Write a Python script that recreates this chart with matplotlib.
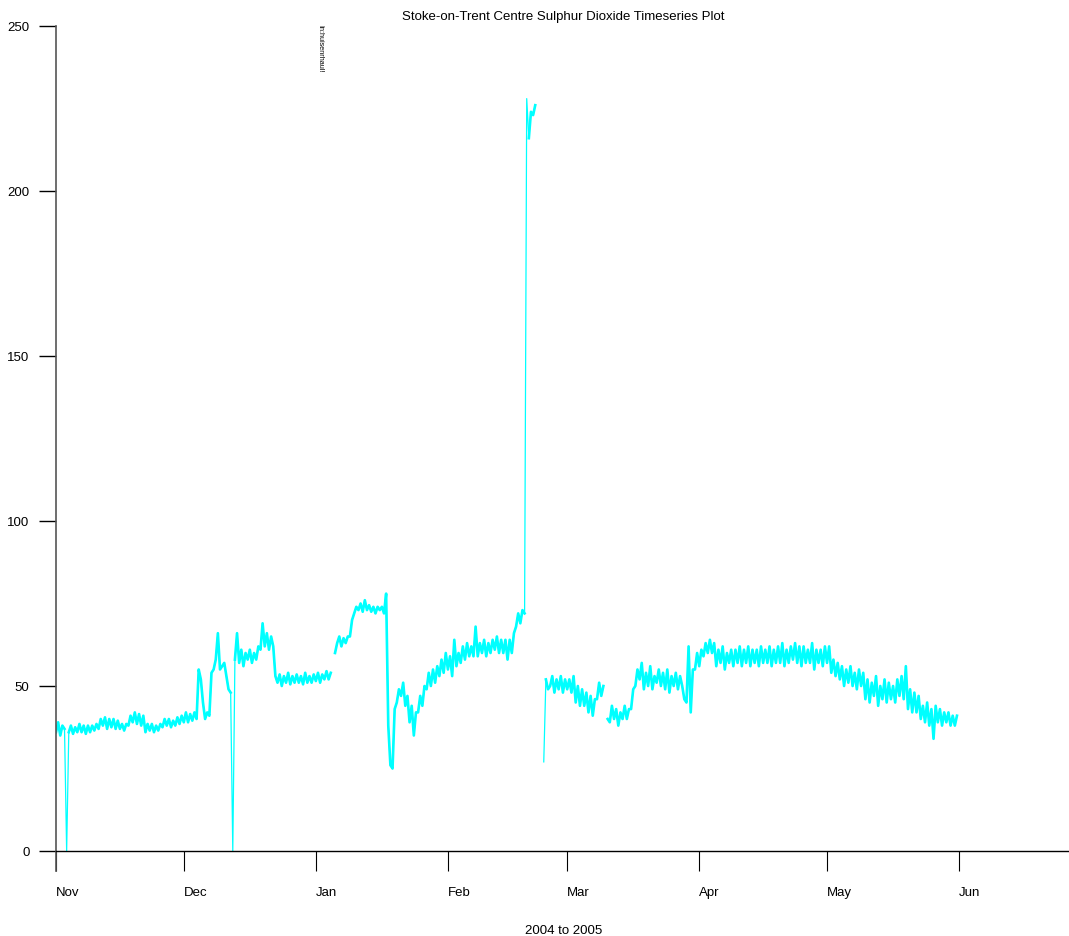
import numpy as np
import pandas as pd
import matplotlib
matplotlib.use("Agg")
import matplotlib.pyplot as plt
import matplotlib.dates as mdates
from matplotlib.lines import Line2D

nan = np.nan

# half-daily readings (low, high) from 2004-11-01, one pair per day
so2_pairs = [
    (36, 39), (35, 38), (37, 0), (36, 38), (35.5, 37.5), (36, 38.5), (36, 38),
    (35.5, 38), (36, 38), (36.5, 38.5),
    (37, 40), (38, 40.5), (37, 40), (37.5, 40), (37, 39.5),
    (37, 38.5), (36.5, 38.5),
    (38, 41), (39, 42), (38.5, 41.5), (38, 41),
    (36, 38.5), (36.5, 38.5), (36, 38), (36.5, 38.5),
    (37.5, 40), (38, 40), (37.5, 39.5), (38, 40.5),
    (38.5, 41), (39, 42), (39, 41.5), (39.5, 42),
    (40, 55), (52, 45), (40, 42), (41, 54),
    (55, 58), (66, 55), (56, 57), (53, 49), (48, 0),
    (58, 66), (57, 61), (56, 60), (58, 61), (57, 60), (58, 62),
    (61, 69), (62, 66), (61, 65), (62, 53),
    (51, 53.5), (50, 53), (51, 54), (50.5, 53), (51, 53.5), (51, 53),
    (50.5, 54), (51, 53), (51, 53.5), (51.5, 54), (51, 53.5), (52, 54.5), (52, 54),
    (nan, 60), (63, 65), (62, 64.5), (63, 65), (65, 70),
    (72, 74), (73, 75), (72.5, 76), (73, 74.5), (72.5, 74), (72, 74), (73, 74),
    (72, 78), (38, 26), (25, 43),
    (45, 49), (47, 51), (44, 47), (39, 44), (35, 42),
    (42, 47), (44, 50), (49, 54), (50, 55), (51, 56),
    (53, 58), (54, 60), (55, 59), (53, 64), (56, 60),
    (57, 62), (58, 63), (59, 62), (59, 68), (59, 63), (60, 64), (59, 63), (60, 64),
    (61, 65), (60, 64), (60, 64), (58, 64), (60, 66),
    (68, 72), (69, 73),
    (72, 228), (216, 224), (223, 226), (nan, nan), (nan, 27),
    (52, 49), (50, 53), (48, 52), (49, 53), (48, 52), (49, 52), (48, 53),
    (45, 50), (44, 49), (44, 48),
    (42, 47), (41, 46), (46, 51), (47, 50),
    (nan, 40), (39, 44), (40, 43), (38, 42), (40, 44), (40, 43), (43, 49),
    (50, 55), (52, 57), (49, 54), (50, 56), (49, 53), (51, 55), (50, 54),
    (49, 55), (48, 53), (50, 54), (49, 53),
    (50, 46), (45, 62), (42, 55), (55, 60), (56, 61),
    (59, 63), (60, 64), (60, 63),
    (56, 61), (57, 62), (55, 60), (57, 61), (56, 61), (57, 62), (56, 61),
    (57, 62), (56, 61), (57, 61), (56, 62), (57, 61), (57, 62), (56, 61),
    (57, 62), (57, 63), (56, 61), (57, 62), (58, 63), (57, 62), (56, 62),
    (57, 61), (57, 63), (55, 61), (57, 61), (56, 62), (57, 62),
    (54, 58), (53, 57), (52, 56),
    (50, 55), (51, 56), (50, 54), (49, 55), (50, 54),
    (46, 52), (45, 51), (47, 53), (44, 50), (46, 52), (45, 51), (46, 50),
    (45, 52), (47, 53), (46, 56),
    (43, 49), (42, 48), (42, 47),
    (40, 44), (39, 45), (38, 43), (34, 44), (39, 43), (38, 42), (39, 42),
    (38, 41), (38, 41),
]

# single readings that show only as thin spikes (zero dropouts, peak, low start)
spike_values = [0, 27, 228]

so2 = np.array(so2_pairs, dtype=float).ravel()
times = pd.date_range("2004-11-01", periods=len(so2), freq="12h")

title = "Stoke-on-Trent Centre Sulphur Dioxide Timeseries Plot"
xlabel = "2004 to 2005"
yticks = [0, 50, 100, 150, 200, 250]

plt.rcParams['font.family'] = ['Liberation Sans', 'DejaVu Sans']

fig = plt.figure(figsize=(10.69, 9.37), dpi=100)
ax = fig.add_axes([56 / 1069, 85 / 937, 1 - 56 / 1069, 825 / 937])

# thick band where the noisy hourly record is dense, thin line for the spikes
band = np.where(np.isin(so2, spike_values), nan, so2)
ax.plot(times, band, color='#00ffff', lw=1.9)
ax.plot(times, so2, color='#00ffff', lw=0.9)

ax.set_ylim(0, 250)
ax.set_xlim(pd.Timestamp("2004-11-01"), pd.Timestamp("2004-11-01") + pd.Timedelta(days=237.8))
ax.set_yticks(yticks)
ax.xaxis.set_major_locator(mdates.MonthLocator())
ax.xaxis.set_major_formatter(mdates.DateFormatter('%b'))

for s in ['top', 'right']:
    ax.spines[s].set_visible(False)
ax.spines['left'].set_visible(False)
ax.add_line(Line2D([0, 0], [-0.024, 1], transform=ax.transAxes, color='#555555',
                   lw=1.2, clip_on=False))
ax.spines['bottom'].set_linewidth(1.0)

ax.tick_params(axis='y', length=12, width=1, pad=7, labelsize=9.5, colors='black')
ax.tick_params(axis='x', length=14.5, width=0.8, pad=11, labelsize=9.5)
for lab in ax.get_xticklabels():
    lab.set_ha('left')

fig.text(0.527, 1 - 931 / 937, xlabel, ha='center', va='center', fontsize=9.5)
fig.text(0.527, 1 - 17 / 937, title, ha='center', va='center', fontsize=9.5)
fig.text(320 / 1069, 1 - 49 / 937, "In:huisenrhaul!", rotation=-90,
         ha='center', va='center', fontsize=5.2)

fig.savefig("out.png", dpi=100)
